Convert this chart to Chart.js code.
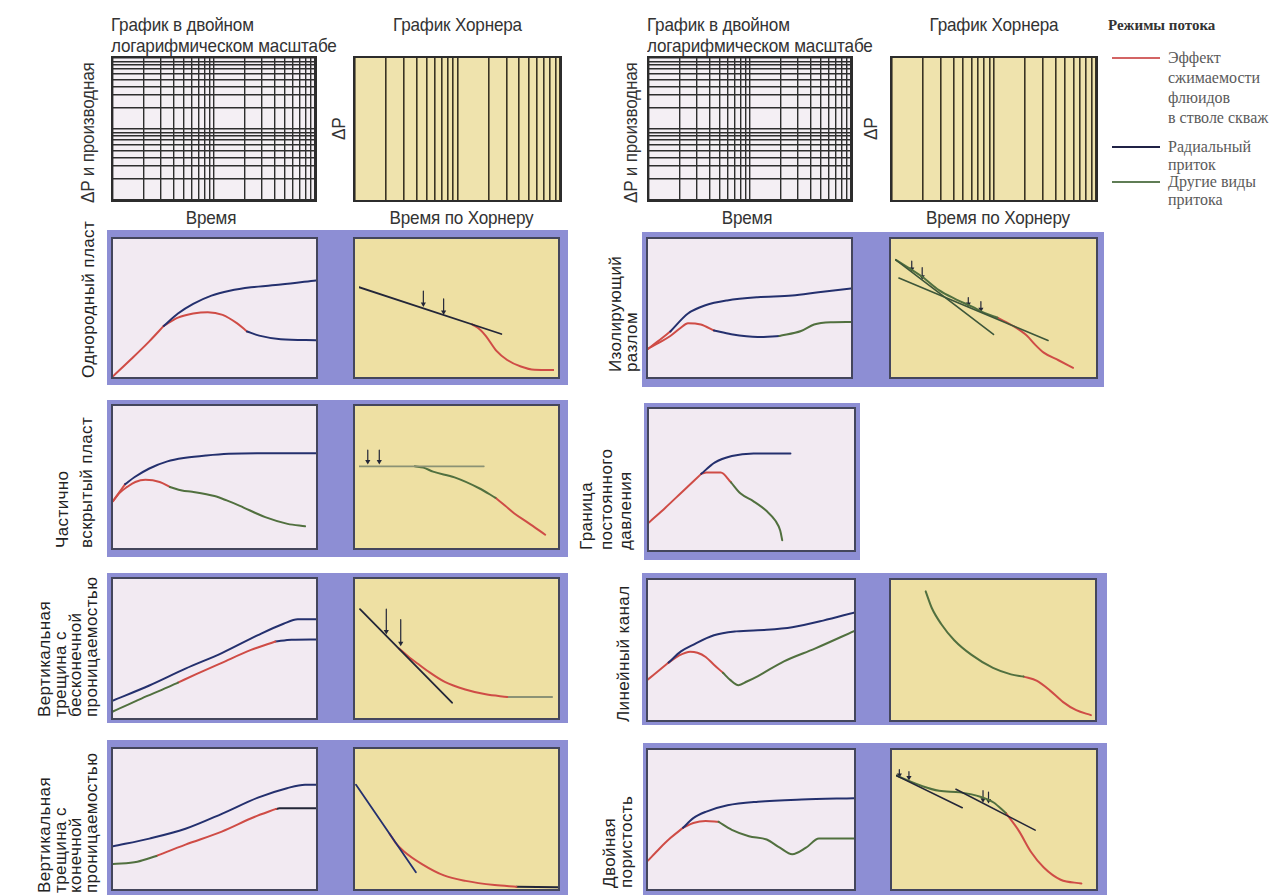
<!DOCTYPE html>
<html lang="ru">
<head>
<meta charset="utf-8">
<title>Режимы потока: диагностические графики</title>
<script src="https://cdn.jsdelivr.net/npm/chart.js@4.4.1/dist/chart.umd.min.js"></script>
<style>
  html, body { margin: 0; padding: 0; background: #ffffff; }
  #page { position: relative; width: 1277px; height: 895px; overflow: hidden; background: #ffffff; }
  .panel { position: absolute; background: #8d8ed4; }
  .plot { position: absolute; box-sizing: border-box; border: 2px solid #44465c; }
  .grid { position: absolute; box-sizing: border-box; border: 2px solid #2c2c2c; }
  .plot canvas, .grid canvas { display: block; }
  .hdr { position: absolute; white-space: nowrap; color: #333;
         font-family: "Liberation Sans", Arial, sans-serif;
         font-size: 19px; line-height: 21px; letter-spacing: -0.2px; }
  .rot { position: absolute; white-space: nowrap; transform-origin: 0 0; }
  .rowlab { color: #222; font-family: "Liberation Sans", Arial, sans-serif; font-size: 17px; letter-spacing: 0.4px; }
  .leg { position: absolute; white-space: nowrap; color: #5a5a5a; font-family: "Liberation Serif", "Times New Roman", serif; font-size: 16px; line-height: 20px; }
  .legline { position: absolute; height: 2px; width: 48px; }
</style>
</head>
<body>
<div id="page"></div>
<script>
// Деления логарифмической сетки (две декады) для заголовочных графиков
const gridDecadeTicks = [1, 2, 3, 4, 5, 6, 7, 8, 9, 10, 20, 30, 40, 50, 60, 70, 80, 90, 100];

// Точки кривых в долях поля графика (0–100 по обеим осям)

// Однородный пласт — билогарифмический график
const homLogStorage   = [[0,0.5],[9,13],[18,26],[25,37]];
const homLogPressure  = [[25,37],[32,46],[39.5,53],[48.5,59],[57.5,62.5],[68,65],[82.6,67],[100,70]];
const homLogDerivRed  = [[25,37],[32,43],[39.5,46],[46.7,47],[54,45],[61,39],[66,33]];
const homLogDerivBlue = [[66,33],[72,30],[82.6,27.4],[100,26.7]];
// Однородный пласт — график Хорнера
const homHornerLine   = [[0,66],[73,30]];
const homHornerRed    = [[58,37.4],[62,33.5],[65,28.6],[70.5,17],[76,10],[83,5],[90,2.5],[100,2.3]];
const homHornerArrowA = [[33,63],[33,53]];
const homHornerArrowB = [[43.4,57],[43.4,47]];

// Изолирующий разлом
const faultLogPressRed   = [[0,20.4],[5,26],[11,33]];
const faultLogPressBlue  = [[11,33],[19.7,46],[28.3,52],[39,55.5],[54,57.8],[71,59],[84,61.4],[100,64.2]];
const faultLogDerivRed   = [[0,20.4],[5,24.5],[11,29.7],[16,35.5],[19.7,39],[26,38],[32.5,33.7]];
const faultLogDerivBlue  = [[32.5,33.7],[41,31],[54,29],[64.7,29.7]];
const faultLogDerivGreen = [[64.7,29.7],[75.4,33.3],[81.8,38],[90,39.6],[100,39.8]];
const faultHornerLine1   = [[0.4,87],[50,29.7]];
const faultHornerLine2   = [[2,73],[77.7,25]];
const faultHornerGreen   = [[0.4,87],[13.8,74],[22.3,63.7],[30.9,56.7],[39.4,50.8],[45.7,46],[52,42.6]];
const faultHornerRed     = [[52,42.6],[60.6,35.6],[67,28.6],[71,22],[75.5,15.7],[83,9.8],[90.4,4]];
const faultHornerArrows  = [[[8.5,86],[8.5,80]],[[13.8,81],[13.8,74]],[[37.2,58],[37.2,53]],[[43.6,55],[43.6,49]]];

// Частично вскрытый пласт
const partLogPressRed   = [[0,33],[3,39],[6,45]];
const partLogPressBlue  = [[6,45],[10.7,50],[17.9,56],[26.8,61],[35.7,63.5],[46,65.2],[57,66.4],[71,66.8],[100,66.8]];
const partLogDerivRed   = [[0,33],[3,38.5],[7,43],[11,46.5],[16,48],[23,46.5],[28,43]];
const partLogDerivGreen = [[28,43],[34,40.5],[39,39.6],[50,36.6],[56,33.5],[62.5,29.7],[75,21.7],[86,17],[94.6,15.3]];
const partHornerFlat    = [[0,58],[64,58]];
const partHornerGreen   = [[28.6,58],[33,57],[38,54],[49,49.7],[61.6,41.6],[70,34.5]];
const partHornerRed     = [[70,34.5],[75,28.5],[79.5,23],[86.6,16],[95.5,6.9]];
const partHornerArrows  = [[[4.5,70],[4.5,61.5]],[[10.4,70],[10.4,61.5]]];

// Граница постоянного давления
const cpbLogStorage    = [[0,19.5],[8,30],[16,41],[25.5,54]];
const cpbLogPressBlue  = [[25.5,54],[32,62],[40.4,66.7],[51,68.5],[69,68.5]];
const cpbLogDerivRed   = [[25.5,54],[28,55],[35,55],[40,48]];
const cpbLogDerivGreen = [[40,48],[44.7,40],[51,34.5],[57.4,27.6],[61.7,20.7],[64,13.8],[65,6.9]];

// Вертикальная трещина с бесконечной проницаемостью
const infLogPress      = [[0,12.6],[17.9,23.4],[35.7,35.5],[53.6,46.7],[71.4,59.6],[84,67.8],[91,71],[100,71]];
const infLogDerivGreen = [[0,4.7],[14,14],[26.8,22],[32,25.5]];
const infLogDerivRed   = [[32,25.5],[41,31.5],[53.6,39.7],[68,49],[80,55]];
const infLogDerivBlue  = [[80,55],[88,56.3],[100,56.5]];
const infHornerLine    = [[0.5,80],[47.7,8.6]];
const infHornerRed     = [[20.5,50],[26,43],[30,38.5],[35,33],[44,24.5],[54.5,18.7],[65,15],[76,13]];
const infHornerGrey    = [[76,13],[88,13],[99,13]];
const infHornerArrows  = [[[14,80],[14,63]],[[21.4,72],[21.4,54]]];

// Линейный канал
const chanLogStorage    = [[0,29],[5,35],[10,41]];
const chanLogPressBlue  = [[10,41],[16,49],[21.6,53.5],[32,60.5],[42.8,63.3],[57.6,64.4],[70,66.3],[85,71],[100,76.7]];
const chanLogDerivRed   = [[10,41],[15,46],[20.5,48.8],[24,48],[28,45],[32,39.5],[36.4,33.7]];
const chanLogDerivGreen = [[36.4,33.7],[40,28.5],[43.9,24.9],[48,27.5],[53.4,31.4],[66,41.9],[81,51],[100,63.5]];
const chanHornerGreen   = [[17,91.9],[20,80],[24.6,68.6],[31,57],[39.5,46.5],[50,37.2],[58.8,32.6],[65,31]];
const chanHornerRed     = [[65,31],[71.6,27.9],[78,21],[84.4,12.8],[90.8,7],[98,3.5]];

// Вертикальная трещина с конечной проницаемостью
const finLogPress      = [[0,30.5],[17.9,36],[35.7,43],[53.6,53.7],[71.4,65.3],[85.7,72],[94.6,74.5],[100,74.5]];
const finLogDerivGreen = [[0,17.8],[12,19.5],[21.4,23.6]];
const finLogDerivRed   = [[21.4,23.6],[35.7,31.7],[53.6,41],[69.6,51.4],[80.4,57.2]];
const finLogDerivDark  = [[80.4,57.2],[82,57.6],[100,57.6]];
const finHornerLine    = [[0.5,74.5],[30,12]];
const finHornerRed     = [[17,39.5],[20,33],[24,27],[33,17.8],[43.8,9.7],[54.5,5.8],[68.8,2.8],[79.5,1.6]];
const finHornerDark    = [[79.5,1.6],[100,1.2]];

// Двойная пористость
const dpLogStorage    = [[0,20.4],[5.5,29],[11,36.8],[17,44]];
const dpLogPressBlue  = [[17,44],[22,51],[28,55.5],[38.6,60.2],[53.4,62.8],[74.6,64.4],[100,65.3]];
const dpLogDerivRed   = [[17,44],[22,47.5],[28,49],[34.3,48.3]];
const dpLogDerivGreen = [[34.3,48.3],[40.7,42.6],[49,38],[57.6,35.6],[64,29.7],[70,25],[76.7,29.7],[83,36.3],[100,36.3]];
const dpHornerLine1   = [[0,83.6],[33.8,59]];
const dpHornerLine2   = [[30.6,73.1],[71,41.9]];
const dpHornerGreen   = [[0,83.6],[13.5,75.4],[22,71.9],[32.7,70.7],[43.4,67.2],[49.8,63],[56,55]];
const dpHornerRed     = [[56,55],[62.6,41.5],[69,25],[75.4,13.3],[84,4],[94.6,1.2]];
const dpHornerArrows  = [[[1.7,88],[1.7,84]],[[6.6,86.5],[6.6,82]],[[44.4,72],[44.4,65]],[[47.2,71],[47.2,64.5]]];

// Цвета режимов потока
const RED = '#cf4c46', BLUE = '#24306e', GREEN = '#51703f', DARK = '#232638', OLIVE = '#3d563a', GREY = '#8b9275';
const PINK_BG = '#f2eaf2', YELLOW_BG = '#eee0a3';
// Сжатие шрифта заголовков (узкое начертание)
const NARROW = 0.9;

const page = document.getElementById('page');

function place(el, x, y, w, h) {
  el.style.left = x + 'px'; el.style.top = y + 'px';
  if (w !== undefined) el.style.width = w + 'px';
  if (h !== undefined) el.style.height = h + 'px';
  page.appendChild(el);
  return el;
}

function baseOptions(scales) {
  return {
    responsive: false, animation: false, events: [],
    layout: { padding: 0 },
    plugins: { legend: { display: false }, tooltip: { enabled: false } },
    scales
  };
}

function toDataset(s) {
  const arrow = !!s.arrow;
  return {
    data: s.pts,
    borderColor: s.c,
    borderWidth: s.w || (arrow ? 1.2 : 2),
    pointRadius: arrow ? [0, 3] : 0,
    pointStyle: 'triangle',
    pointRotation: 180,
    pointBackgroundColor: s.c,
    pointBorderColor: s.c,
    pointBorderWidth: 0,
    cubicInterpolationMode: (!arrow && s.pts.length > 2) ? 'monotone' : 'default',
    tension: 0,
    fill: false,
    borderCapStyle: 'round',
    borderJoinStyle: 'round'
  };
}

function mkPanel(x, y, w, h) {
  const d = document.createElement('div');
  d.className = 'panel';
  place(d, x, y, w, h);
}

function mkPlot(box, bg, series) {
  const d = document.createElement('div');
  d.className = 'plot';
  d.style.background = bg;
  place(d, box[0], box[1], box[2], box[3]);
  const cv = document.createElement('canvas');
  cv.width = box[2] - 4; cv.height = box[3] - 4;
  d.appendChild(cv);
  const hidden = { type: 'linear', min: 0, max: 100, display: false };
  new Chart(cv, {
    type: 'line',
    data: { datasets: series.map(toDataset) },
    options: baseOptions({ x: { ...hidden }, y: { ...hidden } })
  });
}

function mkGrid(box, bg, verticalOnly, color, lw) {
  const d = document.createElement('div');
  d.className = 'grid';
  d.style.background = bg;
  place(d, box[0], box[1], box[2], box[3]);
  const cv = document.createElement('canvas');
  cv.width = box[2] - 4; cv.height = box[3] - 4;
  d.appendChild(cv);
  const setTicks = axis => { axis.ticks = gridDecadeTicks.map(v => ({ value: v })); };
  const axis = (showGrid) => ({
    type: 'logarithmic', min: 1, max: 100,
    afterBuildTicks: setTicks,
    ticks: { display: false },
    grid: { display: showGrid, color, lineWidth: lw, drawTicks: false },
    border: { display: false }
  });
  new Chart(cv, {
    type: 'line',
    data: { datasets: [] },
    options: baseOptions({ x: axis(true), y: axis(!verticalOnly) })
  });
}

function text(cls, x, y, html, extra) {
  const d = document.createElement('div');
  d.className = cls;
  d.innerHTML = html;
  if (extra) Object.assign(d.style, extra);
  place(d, x, y);
  return d;
}

// Заголовок узким начертанием: сжатие по горизонтали
function narrowText(x, y, html, width) {
  const extra = { transform: 'scaleX(' + NARROW + ')' };
  if (width) { extra.width = width + 'px'; extra.textAlign = 'center'; extra.transformOrigin = '50% 0'; }
  else { extra.transformOrigin = '0 0'; }
  return text('hdr', x, y, html, extra);
}

function rotLabel(cls, left, bottom, lines, lh, squeeze) {
  const d = document.createElement('div');
  d.className = 'rot ' + cls;
  d.innerHTML = lines.join('<br>');
  d.style.lineHeight = lh + 'px';
  d.style.transform = 'rotate(-90deg)' + (squeeze ? ' scaleX(' + squeeze + ')' : '');
  place(d, left, bottom);
}

// ---------- Заголовочные сетки ----------
function header(logX, hornerX, hornerW, yLabelX, dpX) {
  narrowText(logX, 14, 'График в двойном<br>логарифмическом масштабе');
  mkGrid([logX, 56, 206, 146], '#f4eff4', false, '#2e2e2e', 1.4);
  rotLabel('hdr', yLabelX, 203, ['ΔP и производная'], 20, NARROW);
  narrowText(logX - 10, 207, 'Время', 220);
  narrowText(hornerX - 10, 14, 'График Хорнера', hornerW + 20);
  mkGrid([hornerX, 56, hornerW, 146], '#efe3ad', true, '#3a3424', 1.6);
  rotLabel('hdr', dpX, 140, ['ΔP'], 20, NARROW);
  narrowText(hornerX - 6, 207, 'Время по Хорнеру', hornerW + 20);
}
header(111, 353, 209, 78, 329);
header(647, 890, 208, 621, 861);

// ---------- Легенда ----------
text('leg', 1108, 15, 'Режимы потока', { fontWeight: 'bold', color: '#333', fontSize: '15px' });
const legendItems = [
  { color: '#d36464', y: 57,  top: 48,  lh: 20, lines: ['Эффект', 'сжимаемости', 'флюидов', 'в стволе скваж'] },
  { color: '#202246', y: 146, top: 138, lh: 18, lines: ['Радиальный', 'приток'] },
  { color: '#5f7d55', y: 181, top: 173, lh: 18, lines: ['Другие виды', 'притока'] }
];
legendItems.forEach(it => {
  const ln = document.createElement('div');
  ln.className = 'legline';
  ln.style.background = it.color;
  place(ln, 1112, it.y);
  text('leg', 1168, it.top, it.lines.join('<br>'), { lineHeight: it.lh + 'px' });
});

// ---------- Строка 1 ----------
mkPanel(107, 230, 461, 155);
mkPlot([111, 237, 207, 142], PINK_BG, [
  { pts: homLogPressure, c: BLUE }, { pts: homLogDerivBlue, c: BLUE },
  { pts: homLogDerivRed, c: RED }, { pts: homLogStorage, c: RED }
]);
mkPlot([353, 237, 207, 142], YELLOW_BG, [
  { pts: homHornerLine, c: DARK, w: 1.8 }, { pts: homHornerRed, c: RED },
  { pts: homHornerArrowA, c: DARK, arrow: true }, { pts: homHornerArrowB, c: DARK, arrow: true }
]);
rotLabel('rowlab', 79, 378, ['Однородный пласт'], 20);

mkPanel(642, 232, 462, 155);
mkPlot([646, 237, 207, 142], PINK_BG, [
  { pts: faultLogPressBlue, c: BLUE }, { pts: faultLogPressRed, c: RED },
  { pts: faultLogDerivGreen, c: GREEN }, { pts: faultLogDerivBlue, c: BLUE }, { pts: faultLogDerivRed, c: RED }
]);
mkPlot([889, 237, 209, 142], YELLOW_BG, [
  { pts: faultHornerLine1, c: OLIVE, w: 1.6 }, { pts: faultHornerLine2, c: OLIVE, w: 1.6 },
  { pts: faultHornerGreen, c: GREEN }, { pts: faultHornerRed, c: RED },
  ...faultHornerArrows.map(p => ({ pts: p, c: DARK, arrow: true }))
]);
rotLabel('rowlab', 608, 372, ['Изолирующий', 'разлом'], 15.5);

// ---------- Строка 2 ----------
mkPanel(107, 400, 461, 157);
mkPlot([111, 404, 207, 146], PINK_BG, [
  { pts: partLogPressBlue, c: BLUE }, { pts: partLogPressRed, c: RED },
  { pts: partLogDerivGreen, c: GREEN }, { pts: partLogDerivRed, c: RED }
]);
mkPlot([353, 404, 207, 146], YELLOW_BG, [
  { pts: partHornerFlat, c: GREY, w: 1.8 }, { pts: partHornerGreen, c: GREEN }, { pts: partHornerRed, c: RED },
  ...partHornerArrows.map(p => ({ pts: p, c: DARK, arrow: true }))
]);
rotLabel('rowlab', 51, 548, ['Частично', 'вскрытый пласт'], 24);

mkPanel(644, 403, 216, 157);
mkPlot([647, 407, 209, 145], PINK_BG, [
  { pts: cpbLogPressBlue, c: BLUE }, { pts: cpbLogDerivGreen, c: GREEN },
  { pts: cpbLogDerivRed, c: RED }, { pts: cpbLogStorage, c: RED }
]);
rotLabel('rowlab', 577, 550, ['Граница', 'постоянного', 'давления'], 19.5);

// ---------- Строка 3 ----------
mkPanel(107, 573, 461, 150);
mkPlot([111, 577, 207, 143], PINK_BG, [
  { pts: infLogPress, c: BLUE }, { pts: infLogDerivGreen, c: GREEN },
  { pts: infLogDerivRed, c: RED }, { pts: infLogDerivBlue, c: BLUE }
]);
mkPlot([353, 577, 207, 143], YELLOW_BG, [
  { pts: infHornerLine, c: DARK, w: 1.8 }, { pts: infHornerRed, c: RED }, { pts: infHornerGrey, c: GREY },
  ...infHornerArrows.map(p => ({ pts: p, c: DARK, arrow: true }))
]);
rotLabel('rowlab', 37, 717, ['Вертикальная', 'трещина с', 'бесконечной', 'проницаемостью'], 15.5);

mkPanel(642, 573, 465, 152);
mkPlot([646, 578, 210, 144], PINK_BG, [
  { pts: chanLogPressBlue, c: BLUE }, { pts: chanLogDerivGreen, c: GREEN },
  { pts: chanLogDerivRed, c: RED }, { pts: chanLogStorage, c: RED }
]);
mkPlot([889, 578, 208, 144], YELLOW_BG, [
  { pts: chanHornerGreen, c: GREEN }, { pts: chanHornerRed, c: RED }
]);
rotLabel('rowlab', 614, 722, ['Линейный канал'], 20);

// ---------- Строка 4 ----------
mkPanel(107, 740, 461, 160);
mkPlot([111, 747, 207, 144], PINK_BG, [
  { pts: finLogPress, c: BLUE }, { pts: finLogDerivGreen, c: GREEN },
  { pts: finLogDerivRed, c: RED }, { pts: finLogDerivDark, c: DARK }
]);
mkPlot([353, 747, 207, 144], YELLOW_BG, [
  { pts: finHornerLine, c: BLUE, w: 1.8 }, { pts: finHornerRed, c: RED }, { pts: finHornerDark, c: DARK }
]);
rotLabel('rowlab', 37, 893, ['Вертикальная', 'трещина с', 'конечной', 'проницаемостью'], 15.5);

mkPanel(643, 743, 464, 157);
mkPlot([646, 748, 210, 143], PINK_BG, [
  { pts: dpLogPressBlue, c: BLUE }, { pts: dpLogDerivGreen, c: GREEN },
  { pts: dpLogDerivRed, c: RED }, { pts: dpLogStorage, c: RED }
]);
mkPlot([890, 748, 208, 143], YELLOW_BG, [
  { pts: dpHornerLine1, c: DARK, w: 1.6 }, { pts: dpHornerLine2, c: DARK, w: 1.6 },
  { pts: dpHornerGreen, c: GREEN }, { pts: dpHornerRed, c: RED },
  ...dpHornerArrows.map(p => ({ pts: p, c: DARK, arrow: true }))
]);
rotLabel('rowlab', 601, 888, ['Двойная', 'пористость'], 17);
</script>
</body>
</html>
